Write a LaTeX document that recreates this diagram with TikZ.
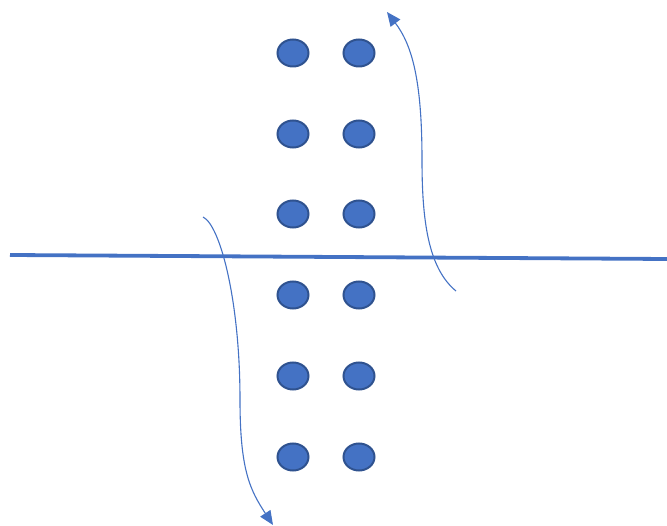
\documentclass[tikz,border=0pt]{standalone}
\usepackage{tikz}
\usetikzlibrary{shapes.geometric, arrows.meta}

\begin{document}
\begin{tikzpicture}[
    x=1pt, y=-1pt,
    dot/.style={ellipse, draw=dotedge, fill=officeblue, line width=2pt,
                minimum width=31pt, minimum height=27pt, inner sep=0pt},
    axis/.style={officeblue, line width=3.8pt},
    turn/.style={-{Triangle[length=14pt, width=12pt]}, officeblue, line width=1.1pt}
]
\definecolor{officeblue}{HTML}{4472C4}
\definecolor{dotedge}{HTML}{2F528F}
\useasboundingbox (0,0) rectangle (667,526);
% Punkte (zwei Spalten)
\foreach \row/\y in {1/53, 2/134, 3/214, 4/295, 5/376, 6/457} {
  \node[dot] (l\row) at (293,\y) {};
  \node[dot] (r\row) at (359,\y) {};
}
% Trennlinie
\coordinate (axisL) at (10,255);
\coordinate (axisR) at (667,259);
\draw[axis] (axisL) -- (axisR);
% Pfeile
\coordinate (upA) at (456,291);
\coordinate (upM) at (422,160);
\coordinate (upB) at (387,12);
\coordinate (dnA) at (203,217);
\coordinate (dnM) at (240,400);
\coordinate (dnB) at (273,525);
\draw[turn] (upA) .. controls (428,268) and (422,220) .. (upM)
            .. controls (422,80) and (412,45) .. (upB);
\draw[turn] (dnA) .. controls (220,225) and (240,300) .. (dnM)
            .. controls (240,470) and (250,490) .. (dnB);
\end{tikzpicture}
\end{document}
